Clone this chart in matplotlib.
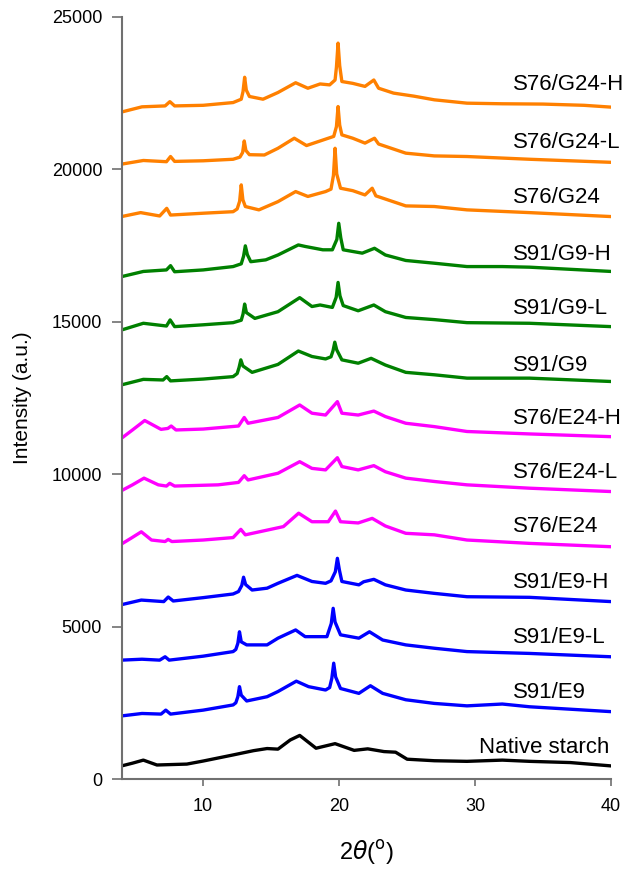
import matplotlib
matplotlib.use('Agg')
import matplotlib.pyplot as plt

plt.rcParams['font.family'] = ['Liberation Sans', 'DejaVu Sans']

# XRD patterns, top to bottom
labels = ['S76/G24-H', 'S76/G24-L', 'S76/G24', 'S91/G9-H', 'S91/G9-L', 'S91/G9',
          'S76/E24-H', 'S76/E24-L', 'S76/E24', 'S91/E9-H', 'S91/E9-L', 'S91/E9',
          'Native starch']
colors = ['#FF8000'] * 3 + ['#008000'] * 3 + ['#FF00FF'] * 3 + ['#0000FF'] * 3 + ['black']
label_y = [22770, 20870, 19060, 17190, 15450, 13580, 11840, 10040, 8270, 6460, 4630,
           2850, 1050]

x_g24h = [4, 5.5, 7.2, 7.55, 7.9, 10, 12.2, 12.8, 12.93, 13.05, 13.17, 13.4, 14.4, 15.5,
          16.8, 17.7, 18.6, 19.3, 19.7, 19.8, 19.92, 20.04, 20.2, 21, 21.9, 22.55, 22.9,
          24, 25.5, 27, 29.4, 32, 35, 38, 40]
y_g24h = [21880, 22050, 22080, 22220, 22080, 22100, 22190, 22300, 22550, 23020, 22600,
          22390, 22300, 22520, 22840, 22660, 22800, 22770, 22930, 23350, 24140, 23400,
          22880, 22820, 22720, 22930, 22660, 22500, 22400, 22280, 22170, 22150, 22140,
          22100, 22040]

x_g24l = [4, 5.6, 7.3, 7.6, 7.9, 10, 12.2, 12.7, 12.9, 13.02, 13.14, 13.4, 14.5, 15.5,
          16.7, 17.6, 18.8, 19.6, 19.8, 19.92, 20.04, 20.2, 21, 21.9, 22.6, 22.9, 24.9,
          27, 29.4, 34, 40]
y_g24l = [20170, 20290, 20250, 20420, 20260, 20280, 20330, 20400, 20550, 20930, 20620,
          20480, 20470, 20690, 21020, 20780, 20960, 21080, 21400, 22060, 21450, 21130,
          21020, 20860, 21020, 20830, 20530, 20440, 20420, 20330, 20230]

x_g24 = [4, 5.4, 6.8, 7.32, 7.6, 10, 12.2, 12.5, 12.68, 12.8, 12.92, 13.1, 14.1, 15.5,
         16.8, 17.7, 19.0, 19.4, 19.58, 19.7, 19.82, 20.1, 21, 21.9, 22.43, 22.7, 24.9,
         27, 29.4, 34, 40]
y_g24 = [18450, 18580, 18470, 18720, 18500, 18560, 18610, 18700, 18950, 19490, 19000,
         18780, 18670, 18940, 19270, 19110, 19270, 19350, 19800, 20690, 19850, 19380,
         19300, 19160, 19380, 19130, 18800, 18780, 18670, 18580, 18450]

x_g9h = [4, 5.6, 7.3, 7.6, 7.9, 10, 12.2, 12.8, 12.97, 13.1, 13.25, 13.5, 14.6, 15.5,
         17.0, 17.5, 18.8, 19.5, 19.83, 19.97, 20.12, 20.3, 21.7, 22.6, 23.4, 24.9, 27,
         29.4, 32, 34, 40]
y_g9h = [16480, 16650, 16700, 16840, 16640, 16700, 16810, 16900, 17150, 17490, 17200,
         16970, 17030, 17190, 17520, 17470, 17360, 17360, 17700, 18230, 17750, 17360,
         17250, 17410, 17190, 17010, 16920, 16810, 16810, 16790, 16650]

x_g9l = [4, 5.6, 7.3, 7.57, 7.9, 10, 12.2, 12.8, 12.93, 13.05, 13.18, 13.8, 15.5, 17.1,
         18.0, 18.6, 19.5, 19.78, 19.92, 20.06, 20.3, 21.4, 22.55, 23.4, 24.9, 27, 29.4,
         34, 40]
y_g9l = [14730, 14950, 14860, 15060, 14840, 14900, 14970, 15050, 15250, 15580, 15300,
         15110, 15330, 15790, 15500, 15550, 15470, 15800, 16290, 15850, 15530, 15360,
         15550, 15330, 15140, 15070, 14970, 14950, 14840]

x_g9 = [4, 5.6, 7.05, 7.32, 7.6, 10, 12.2, 12.5, 12.64, 12.77, 12.92, 13.6, 15.5, 17.0,
        18.0, 19.0, 19.4, 19.55, 19.68, 19.82, 20.2, 21.4, 22.35, 23.4, 24.9, 27, 29.4,
        34, 40]
y_g9 = [12930, 13110, 13090, 13200, 13060, 13120, 13200, 13300, 13500, 13750, 13550,
        13340, 13600, 14040, 13860, 13780, 13850, 14050, 14330, 14080, 13750, 13640,
        13800, 13580, 13340, 13260, 13150, 13150, 13040]

x_e24h = [4, 4.8, 5.7, 6.9, 7.4, 7.65, 8.0, 10, 12.6, 13.02, 13.3, 15.5, 17.1, 18.0,
          19.0, 19.87, 20.2, 21.4, 22.55, 23.4, 24.9, 27, 29.4, 34, 40]
y_e24h = [11180, 11450, 11760, 11470, 11500, 11580, 11450, 11480, 11580, 11860, 11670,
          11860, 12270, 12000, 11940, 12380, 12000, 11940, 12070, 11890, 11670, 11560,
          11400, 11320, 11230]

x_e24l = [4, 4.8, 5.65, 6.7, 7.3, 7.54, 7.9, 11.1, 12.6, 13.02, 13.3, 15.5, 17.1, 18.0,
          19.0, 19.87, 20.2, 21.4, 22.55, 23.4, 24.9, 27, 29.4, 34, 40]
y_e24l = [9460, 9650, 9870, 9650, 9610, 9700, 9610, 9650, 9730, 9950, 9810, 10030, 10410,
          10190, 10140, 10540, 10250, 10140, 10280, 10080, 9870, 9760, 9650, 9540, 9430]

x_e24 = [4, 4.7, 5.45, 6.2, 7.2, 7.42, 7.7, 10, 12.2, 12.77, 13.1, 15.9, 17.02, 18.0,
         19.2, 19.73, 20.1, 21.4, 22.43, 23.4, 24.9, 27, 29.4, 34, 40]
y_e24 = [7710, 7900, 8110, 7840, 7790, 7860, 7790, 7840, 7920, 8190, 8010, 8280, 8720,
         8440, 8440, 8790, 8440, 8400, 8550, 8300, 8060, 8010, 7840, 7730, 7620]

x_e9h = [4, 5.45, 7.1, 7.43, 7.8, 10, 12.2, 12.6, 12.84, 12.97, 13.12, 13.6, 14.7, 15.5,
         16.9, 18.0, 19.0, 19.4, 19.72, 19.87, 20.02, 20.2, 21.45, 21.8, 22.55, 23.4,
         24.9, 27, 29.4, 34, 40]
y_e9h = [5720, 5870, 5820, 5970, 5840, 5950, 6070, 6150, 6350, 6620, 6380, 6200, 6260,
         6420, 6680, 6480, 6420, 6500, 6800, 7240, 6850, 6480, 6370, 6470, 6550, 6370,
         6200, 6090, 5980, 5960, 5820]

x_e9l = [4, 5.5, 6.8, 7.2, 7.5, 10, 12.2, 12.4, 12.55, 12.67, 12.8, 13.2, 14.7, 15.5,
         16.8, 17.5, 19.1, 19.42, 19.56, 19.7, 20.1, 21.45, 22.23, 23.2, 24.9, 27, 29.4,
         34, 40]
y_e9l = [3900, 3930, 3900, 4010, 3900, 4030, 4180, 4250, 4450, 4830, 4500, 4400, 4400,
         4620, 4890, 4670, 4670, 5100, 5600, 5150, 4730, 4620, 4830, 4560, 4400, 4290,
         4180, 4120, 4010]

x_e9 = [4, 5.5, 6.9, 7.25, 7.6, 10, 12.2, 12.4, 12.55, 12.67, 12.8, 13.2, 14.7, 15.5,
        16.85, 17.75, 19.0, 19.3, 19.46, 19.6, 19.74, 20.1, 21.45, 22.3, 23.2, 24.9, 27,
        29.4, 32, 34, 40]
y_e9 = [2070, 2150, 2130, 2260, 2130, 2260, 2430, 2500, 2700, 3030, 2750, 2560, 2700,
        2870, 3210, 3030, 2920, 3000, 3300, 3800, 3350, 2970, 2810, 3060, 2810, 2600,
        2480, 2400, 2460, 2370, 2210]

x_native = [4, 4.8, 5.6, 6.6, 8.8, 10, 12.2, 13.7, 14.7, 15.5, 16.4, 17.1, 18.3, 19.7,
            21.1, 22.1, 23.3, 24.15, 25.0, 27, 29.4, 32, 34, 37, 40]
y_native = [430, 520, 620, 460, 490, 590, 790, 930, 1000, 980, 1280, 1430, 1010, 1160,
            940, 990, 900, 880, 650, 600, 580, 620, 580, 540, 430]

xs = [x_g24h, x_g24l, x_g24, x_g9h, x_g9l, x_g9, x_e24h, x_e24l, x_e24,
      x_e9h, x_e9l, x_e9, x_native]
ys = [y_g24h, y_g24l, y_g24, y_g9h, y_g9l, y_g9, y_e24h, y_e24l, y_e24,
      y_e9h, y_e9l, y_e9, y_native]

fig = plt.figure(figsize=(6.3, 8.71), dpi=100)
ax = fig.add_axes([0.193, 0.1056, 0.777, 0.875])

for x, y, c in zip(xs, ys, colors):
    ax.plot(x, y, color=c, linewidth=2.4, solid_joinstyle='round')

for lab, ly in zip(labels, label_y):
    lx = 30.3 if lab == 'Native starch' else 32.8
    ax.text(lx, ly, lab, fontsize=16, ha='left', va='center')

ax.set_xlim(4, 40)
ax.set_ylim(0, 25000)
ax.set_xticks([10, 20, 30, 40])
ax.set_yticks([0, 5000, 10000, 15000, 20000, 25000])
for s in ['top', 'right']:
    ax.spines[s].set_visible(False)
for s in ['left', 'bottom']:
    ax.spines[s].set_color('#707070')
    ax.spines[s].set_linewidth(1.5)
ax.tick_params(axis='y', direction='out', length=7, width=1.2, color='#707070',
               labelsize=13, pad=7)
ax.tick_params(axis='x', direction='out', length=5, width=1.2, color='#707070',
               labelsize=13, pad=9)

ax.set_xlabel(r'2$\theta$($^{\rm o}$)', fontsize=17, labelpad=16)
ax.set_ylabel('Intensity (a.u.)', fontsize=15, labelpad=14)

fig.savefig('out.png', dpi=100)
